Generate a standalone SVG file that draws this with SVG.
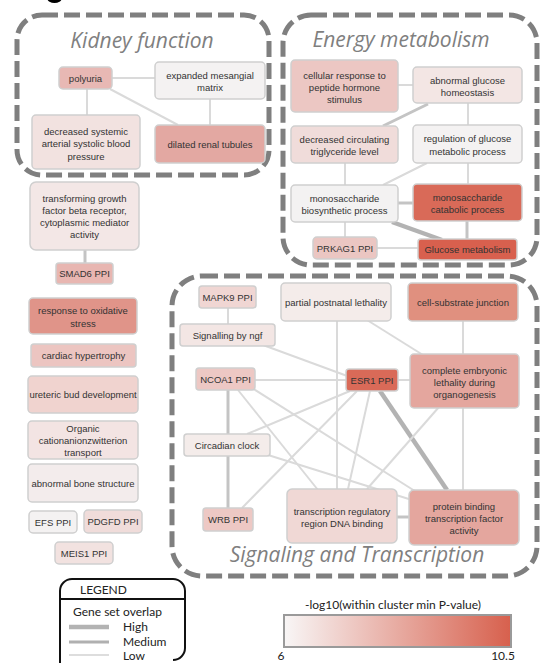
<svg xmlns="http://www.w3.org/2000/svg" width="542" height="663" viewBox="0 0 542 663">
<defs>
<style>
.grp{fill:none;stroke:#7f7f7f;stroke-width:5;stroke-dasharray:16 6}
.gt{font-family:"Open Sans","Liberation Sans",sans-serif;font-style:italic;font-size:21px;fill:#7f7f7f;text-anchor:middle}
.n rect{stroke:#cfcfcf;stroke-width:1.5}
.n text{font-family:"Liberation Sans",Arial,sans-serif;font-size:9.5px;fill:#333;text-anchor:middle}
.e{stroke:#dadada;stroke-width:2;fill:none}
.m{stroke:#c4c4c4;stroke-width:3;fill:none}
.t{stroke:#b3b3b3;stroke-width:4.5;fill:none}
.lg{font-family:Lato,"Open Sans",sans-serif;font-size:12px;fill:#222}
</style>
<linearGradient id="cb" x1="0" y1="0" x2="1" y2="0">
<stop offset="0" stop-color="#f8f6f6"/>
<stop offset="1" stop-color="#d7604d"/>
</linearGradient>
</defs>
<rect width="542" height="663" fill="#fff"/>
<ellipse cx="54.5" cy="-1" rx="7" ry="4" fill="#000"/>

<!-- cluster boxes -->
<g id="cluster-kidney">
<rect class="grp" x="17" y="15" width="252" height="160" rx="25"/>
<text class="gt" x="142" y="48">Kidney function</text>
</g>
<g id="cluster-energy">
<rect class="grp" x="283" y="15" width="254" height="250" rx="28"/>
<text class="gt" x="401" y="47">Energy metabolism</text>
</g>
<g id="cluster-signaling">
<rect class="grp" x="172" y="276" width="365" height="300" rx="30"/>
<text class="gt" x="357" y="562">Signaling and Transcription</text>
</g>

<g id="connectors">
<!-- kidney -->
<line class="e" x1="112" y1="78" x2="155" y2="78"/>
<line class="e" x1="87" y1="89" x2="87" y2="115"/>
<line class="e" x1="110" y1="89" x2="178" y2="125"/>
<line class="e" x1="210" y1="99" x2="210" y2="125"/>
<!-- energy -->
<line class="e" x1="398" y1="85" x2="413" y2="85"/>
<line class="m" x1="428" y1="104" x2="383" y2="126"/>
<line class="e" x1="468" y1="103" x2="468" y2="125"/>
<line class="e" x1="345" y1="163" x2="345" y2="185"/>
<line class="e" x1="427" y1="163" x2="383" y2="185"/>
<line class="e" x1="468" y1="163" x2="468" y2="184"/>
<line class="m" x1="398" y1="203" x2="413" y2="203"/>
<line class="t" x1="392" y1="222" x2="442" y2="240"/>
<line class="m" x1="467" y1="221" x2="467" y2="239"/>
<line class="e" x1="345" y1="222" x2="345" y2="237"/>
<line class="e" x1="377" y1="248" x2="418" y2="248"/>
<!-- left column -->
<line class="m" x1="85" y1="250" x2="85" y2="263"/>
<!-- signaling -->
<line class="e" x1="228" y1="308" x2="228" y2="324"/>
<line class="e" x1="367" y1="320" x2="423" y2="355"/>
<line class="e" x1="337" y1="321" x2="337" y2="489"/>
<line class="e" x1="463" y1="321" x2="463" y2="354"/>
<line class="e" x1="263" y1="345" x2="350" y2="377"/>
<line class="e" x1="255" y1="380" x2="346" y2="380"/>
<line class="e" x1="398" y1="380" x2="410" y2="380"/>
<line class="m" x1="228" y1="390" x2="228" y2="434"/>
<line class="m" x1="228" y1="456" x2="228" y2="508"/>
<line class="e" x1="238" y1="390" x2="318" y2="490"/>
<line class="e" x1="252" y1="388" x2="418" y2="493"/>
<line class="e" x1="350" y1="391" x2="247" y2="434"/>
<line class="e" x1="357" y1="391" x2="242" y2="508"/>
<line class="e" x1="370" y1="391" x2="348" y2="489"/>
<line class="t" x1="380" y1="391" x2="447" y2="490"/>
<line class="e" x1="439" y1="407" x2="367" y2="489"/>
<line class="e" x1="463" y1="408" x2="463" y2="490"/>
<line class="e" x1="268" y1="455" x2="412" y2="500"/>
<line class="m" x1="397" y1="517" x2="409" y2="517"/>
</g>

<!-- kidney nodes -->
<g id="n-polyuria" class="n"><rect x="59" y="67" width="53" height="22" rx="4" fill="#e8b8b4"/><text x="85.5" y="81.5">polyuria</text></g>
<g id="n-expanded-mesangial" class="n"><rect x="155" y="62" width="110" height="37" rx="4" fill="#f4f2f2"/><text x="210" y="79">expanded mesangial<tspan x="210" dy="12">matrix</tspan></text></g>
<g id="n-decreased-systemic" class="n"><rect x="32" y="115" width="108" height="54" rx="4" fill="#f2e2e0"/><text x="86" y="134.5">decreased systemic<tspan x="86" dy="12.5">arterial systolic blood</tspan><tspan x="86" dy="12.5">pressure</tspan></text></g>
<g id="n-dilated-renal" class="n"><rect x="155" y="125" width="110" height="38" rx="4" fill="#e3a8a2"/><text x="210" y="147.5">dilated renal tubules</text></g>

<!-- energy nodes -->
<g id="n-cellular-response" class="n"><rect x="291" y="60" width="107" height="52" rx="4" fill="#ecc7c3"/><text x="344.5" y="78.5">cellular response to<tspan x="344.5" dy="12">peptide hormone</tspan><tspan x="344.5" dy="12">stimulus</tspan></text></g>
<g id="n-abnormal-glucose" class="n"><rect x="413" y="67" width="109" height="36" rx="4" fill="#f3e6e4"/><text x="467.5" y="83.5">abnormal glucose<tspan x="467.5" dy="12">homeostasis</tspan></text></g>
<g id="n-decreased-triglyceride" class="n"><rect x="291" y="126" width="107" height="37" rx="4" fill="#f0dcda"/><text x="344.5" y="142.5">decreased circulating<tspan x="344.5" dy="12.5">triglyceride level</tspan></text></g>
<g id="n-regulation-glucose" class="n"><rect x="413" y="125" width="109" height="38" rx="4" fill="#f4f2f2"/><text x="467.5" y="142">regulation of glucose<tspan x="467.5" dy="12.5">metabolic process</tspan></text></g>
<g id="n-monosaccharide-biosynthetic" class="n"><rect x="291" y="185" width="107" height="37" rx="4" fill="#f3f2f2"/><text x="344.5" y="201.5">monosaccharide<tspan x="344.5" dy="12.5">biosynthetic process</tspan></text></g>
<g id="n-monosaccharide-catabolic" class="n"><rect x="413" y="184" width="109" height="37" rx="4" fill="#d96a58"/><text x="467.5" y="200.5">monosaccharide<tspan x="467.5" dy="12.5">catabolic process</tspan></text></g>
<g id="n-prkag1" class="n"><rect x="313" y="237" width="64" height="22" rx="4" fill="#ebc6c2"/><text x="345" y="251.5">PRKAG1 PPI</text></g>
<g id="n-glucose-metabolism" class="n"><rect x="418" y="239" width="99" height="21" rx="3" fill="#d8604e"/><text x="467.5" y="253">Glucose metabolism</text></g>

<!-- left column nodes -->
<g id="n-tgf-beta" class="n"><rect x="30" y="182" width="109" height="68" rx="6" fill="#f3e7e6"/><text x="84.5" y="201.5">transforming growth<tspan x="84.5" dy="12">factor beta receptor,</tspan><tspan x="84.5" dy="12">cytoplasmic mediator</tspan><tspan x="84.5" dy="12">activity</tspan></text></g>
<g id="n-smad6" class="n"><rect x="56" y="263" width="57" height="21" rx="3" fill="#e8b6b1"/><text x="84.5" y="277">SMAD6 PPI</text></g>
<g id="n-oxidative-stress" class="n"><rect x="29" y="298" width="108" height="36" rx="4" fill="#e09489"/><text x="83" y="314">response to oxidative<tspan x="83" dy="12.5">stress</tspan></text></g>
<g id="n-cardiac" class="n"><rect x="31" y="344" width="105" height="23" rx="3" fill="#ecc5c1"/><text x="83.5" y="359">cardiac hypertrophy</text></g>
<g id="n-ureteric" class="n"><rect x="28" y="376" width="110" height="37" rx="4" fill="#f0d3cf"/><text x="83" y="398">ureteric bud development</text></g>
<g id="n-organic" class="n"><rect x="28" y="421" width="110" height="38" rx="4" fill="#f3e4e3"/><text x="83" y="431.5">Organic<tspan x="83" dy="12">cationanionzwitterion</tspan><tspan x="83" dy="12">transport</tspan></text></g>
<g id="n-bone" class="n"><rect x="28" y="464" width="110" height="38" rx="4" fill="#f3ecec"/><text x="83" y="486.5">abnormal bone structure</text></g>
<g id="n-efs" class="n"><rect x="29" y="511" width="48" height="22" rx="4" fill="#f4f2f2"/><text x="53" y="525.5">EFS PPI</text></g>
<g id="n-pdgfd" class="n"><rect x="84" y="510" width="58" height="23" rx="4" fill="#f0dcda"/><text x="113" y="524.5">PDGFD PPI</text></g>
<g id="n-meis1" class="n"><rect x="55" y="542" width="58" height="22" rx="4" fill="#f2e2e0"/><text x="84" y="556.5">MEIS1 PPI</text></g>

<!-- signaling nodes -->
<g id="n-mapk9" class="n"><rect x="199" y="286" width="57" height="22" rx="3" fill="#f0d6d3"/><text x="227.5" y="300.5">MAPK9 PPI</text></g>
<g id="n-partial-postnatal" class="n"><rect x="281" y="283" width="110" height="38" rx="4" fill="#f4ecea"/><text x="336" y="305.5">partial postnatal lethality</text></g>
<g id="n-cell-substrate" class="n"><rect x="408" y="283" width="110" height="38" rx="4" fill="#e0907f"/><text x="463" y="305.5">cell-substrate junction</text></g>
<g id="n-signalling-ngf" class="n"><rect x="180" y="324" width="95" height="22" rx="3" fill="#f3e6e4"/><text x="227.5" y="338.5">Signalling by ngf</text></g>
<g id="n-ncoa1" class="n"><rect x="196" y="368" width="59" height="22" rx="3" fill="#edc8c4"/><text x="225.5" y="382.5">NCOA1 PPI</text></g>
<g id="n-esr1" class="n"><rect x="346" y="369" width="52" height="22" rx="3" fill="#d96a58"/><text x="372" y="383.5">ESR1 PPI</text></g>
<g id="n-complete-embryonic" class="n"><rect x="410" y="354" width="109" height="54" rx="4" fill="#e4a69e"/><text x="464.5" y="373.5">complete embryonic<tspan x="464.5" dy="12">lethality during</tspan><tspan x="464.5" dy="12">organogenesis</tspan></text></g>
<g id="n-circadian" class="n"><rect x="184" y="434" width="86" height="22" rx="3" fill="#f4ecea"/><text x="227" y="448.5">Circadian clock</text></g>
<g id="n-wrb" class="n"><rect x="203" y="508" width="50" height="23" rx="3" fill="#edc8c4"/><text x="228" y="523">WRB PPI</text></g>
<g id="n-transcription-regulatory" class="n"><rect x="287" y="489" width="110" height="54" rx="5" fill="#f0d8d5"/><text x="342" y="514.5">transcription regulatory<tspan x="342" dy="12">region DNA binding</tspan></text></g>
<g id="n-protein-binding" class="n"><rect x="409" y="490" width="110" height="55" rx="5" fill="#e4a69e"/><text x="464" y="509.5">protein binding<tspan x="464" dy="12">transcription factor</tspan><tspan x="464" dy="12">activity</tspan></text></g>

<!-- legend -->
<g id="legend">
<path d="M60,663 V591 a12,12 0 0 1 12,-12 H173 a12,12 0 0 1 12,12 V648 a12,12 0 0 1 -12,12" fill="none" stroke="#111" stroke-width="2"/>
<line x1="60" y1="599" x2="185" y2="599" stroke="#111" stroke-width="2"/>
<text class="lg" x="80" y="594">LEGEND</text>
<text class="lg" x="73" y="615.5">Gene set overlap</text>
<line x1="69" y1="627" x2="109" y2="627" stroke="#b3b3b3" stroke-width="4.5"/>
<line x1="69" y1="642" x2="109" y2="642" stroke="#b0b0b0" stroke-width="3"/>
<line x1="69" y1="655" x2="109" y2="655" stroke="#bbb" stroke-width="1"/>
<text class="lg" x="123" y="630.5">High</text>
<text class="lg" x="123" y="645.5">Medium</text>
<text class="lg" x="123" y="660">Low</text>
</g>
<g id="colorbar">
<text class="lg" x="393" y="609" text-anchor="middle" font-size="11.5">-log10(within cluster min P-value)</text>
<rect x="284" y="615" width="227" height="32" fill="url(#cb)" stroke="#9a9a9a" stroke-width="2"/>
<text class="lg" x="281" y="660" text-anchor="middle" font-size="11.5">6</text>
<text class="lg" x="503" y="660" text-anchor="middle" font-size="11.5">10.5</text>
</g>
</svg>
